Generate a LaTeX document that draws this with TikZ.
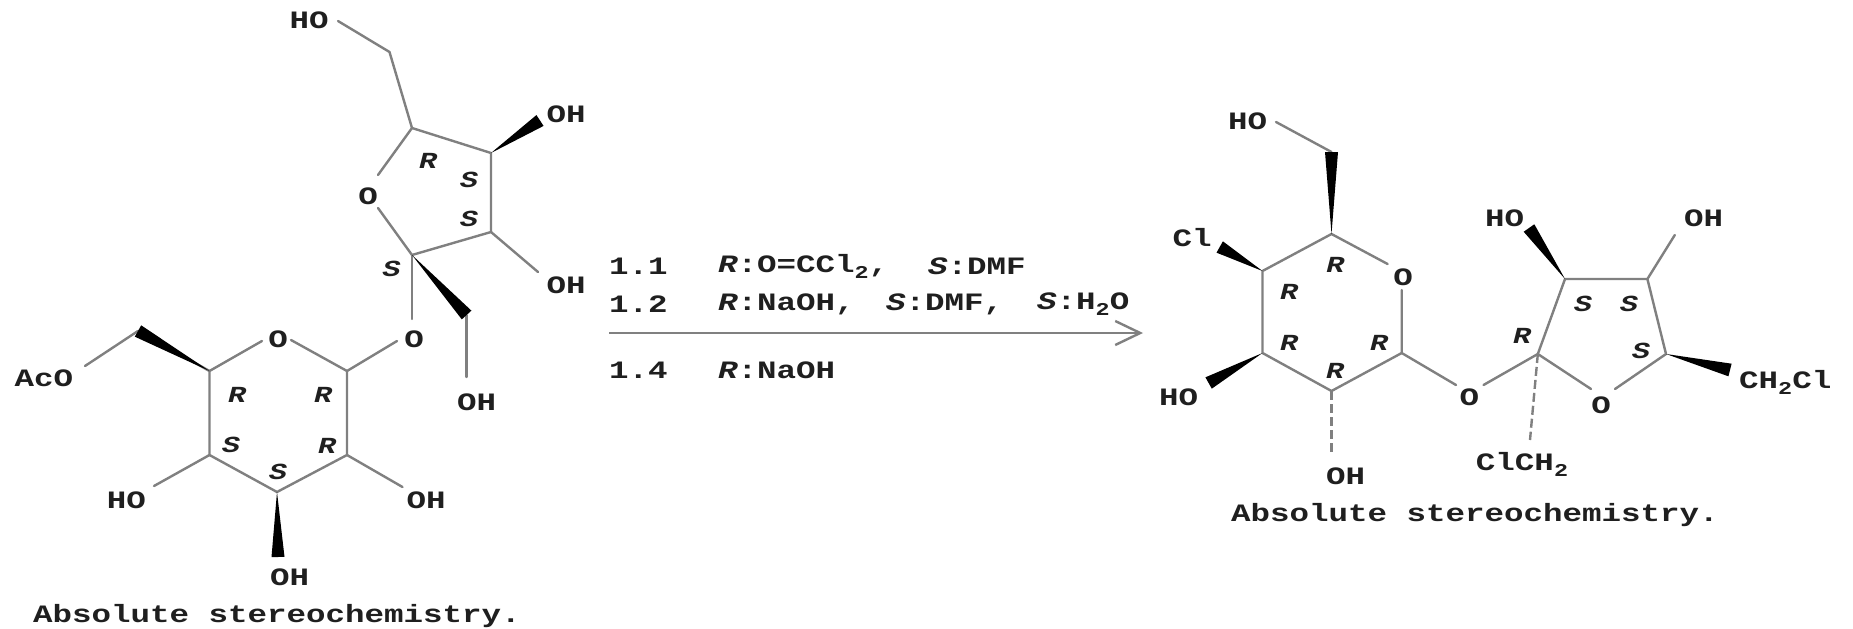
\documentclass[tikz,border=0pt]{standalone}
\usepackage{fontspec}
\usetikzlibrary{calc,arrows.meta}
\newfontfamily\labf{Liberation Mono}[FakeStretch=1.3]
\newcommand\subtwo{\raisebox{-6pt}{\fontsize{18}{18}\selectfont 2}}
\newcommand\wedgebond[3][6.5pt]{\fill[wedgecol] (#2) -- ($(#3)!#1!90:(#2)$) -- ($(#3)!#1!-90:(#2)$) -- cycle;}
\begin{document}
\begin{tikzpicture}[x=1pt,y=-1pt,
  lab/.style={inner sep=0pt,font=\fontsize{25}{25}\selectfont\labf\bfseries,text=black!88},
  stereo/.style={inner sep=0pt,font=\fontsize{23}{23}\selectfont\labf\bfseries\itshape,text=black!88},
  bond/.style={draw=black!50,line width=2.4pt,line cap=round,line join=round},
  hashbond/.style={bond,dash pattern=on 9pt off 4pt,line cap=butt},
  wedgecol/.style={fill=black},
  rxn/.style={draw=black!50,line width=2.8pt,-{Straight Barb[length=25pt,width=24pt,line width=2.4pt]}}]
\useasboundingbox[fill=white] (0,0) rectangle (1853,629);

% ---- left molecule: atoms
\foreach \n/\x/\y in {CH1/389.5/52,F5/412/128,F4/491/153,F3/491/232,F2/412/255,W2/466.6/315,
  G1/347/371,G5/209.5/371,G4/209.5/455,G3/277/492,G2/347/455,W6/138/331,
  e1/338/21,e2/540/120.5,e3/538/272,e4/378/175,e5/378/208,e6/466.6/377,e7/412/319,
  e8/397/341,e9/291/340,e10/262/341,e11/85/366,e12/154/486,e13/402.5/487,e14/278/557}
  {\coordinate (\n) at (\x,\y);}

\node[lab] (lHO1) at (309,20) {HO};
\node[lab] (lOH1) at (566,114) {OH};
\node[lab] (lOH2) at (566,285) {OH};
\node[lab] (lO1) at (368,196) {O};
\node[lab] (lOH3) at (476.5,402) {OH};
\node[lab] (lO2) at (414,339) {O};
\node[lab] (lO3) at (278,339) {O};
\node[lab] (lAcO) at (44,378) {AcO};
\node[lab] (lHO2) at (126.5,500) {HO};
\node[lab] (lOH4) at (426,500) {OH};
\node[lab] (lOH5) at (289.5,577.5) {OH};
\node[lab] (lcap) at (277,616) {Absolute stereochemistry.};

\node[stereo] (sa1) at (428,161) {R};
\node[stereo] (sa2) at (469,179.5) {S};
\node[stereo] (sa3) at (469,219) {S};
\node[stereo] (sa4) at (391.5,269) {S};
\node[stereo] (sa5) at (237,395) {R};
\node[stereo] (sa6) at (323,395) {R};
\node[stereo] (sa7) at (231,445) {S};
\node[stereo] (sa8) at (327,446) {R};
\node[stereo] (sa9) at (278,472) {S};

\draw[bond] (e1) -- (CH1) -- (F5) -- (F4) -- (F3) -- (F2) -- (e5);
\draw[bond] (F5) -- (e4);
\draw[bond] (F3) -- (e3);
\draw[bond] (F2) -- (e7);
\draw[bond] (W2) -- (e6);
\draw[bond] (e8) -- (G1) -- (e9);
\draw[bond] (G1) -- (G2) -- (G3) -- (G4) -- (G5) -- (e10);
\draw[bond] (G5) -- (W6);
\draw[bond] (W6) -- (e11);
\draw[bond] (G4) -- (e12);
\draw[bond] (G2) -- (e13);
\wedgebond{F4}{e2}
\wedgebond{F2}{W2}
\wedgebond{G5}{W6}
\wedgebond{G3}{e14}

% ---- reaction
\coordinate (astart) at (609,333);
\coordinate (aend) at (1143,333);
\draw[rxn] (astart) -- (aend);

\node[lab,anchor=west] (r1a) at (609,266) {1.1};
\node[lab,anchor=west] (r1b) at (718,266) {{\itshape R}:O=CCl\subtwo,};
\node[lab,anchor=west] (r1c) at (928,266) {{\itshape S}:DMF};
\node[lab,anchor=west] (r2a) at (609,304) {1.2};
\node[lab,anchor=west] (r2b) at (718,304) {{\itshape R}:NaOH,};
\node[lab,anchor=west] (r2c) at (886,304) {{\itshape S}:DMF,};
\node[lab,anchor=west] (r2d) at (1037,304) {{\itshape S}:H\subtwo O};
\node[lab,anchor=west] (r3a) at (609,370) {1.4};
\node[lab,anchor=west] (r3b) at (718,370) {{\itshape R}:NaOH};

% ---- right molecule: atoms
\foreach \n/\x/\y in {CHb/1331.5/152,P5/1331.5/234,P4/1262.5/271,P3/1262.5/353,P2/1331.5/391,P1/1401.7/353,
  Q2/1537.8/354,Q3/1565/279,Q4/1647.4/279,Q5/1666/354,
  f1/1276/122,f2/1219.7/247,f3/1208.6/383,f4/1331.5/455,f5/1401.7/290,f6/1387.6/264,
  f7/1456/385,f8/1483.5/385,f9/1591/389,f10/1615/389,f11/1529/228,f12/1674.8/235,f13/1730/370,f14/1530/440}
  {\coordinate (\n) at (\x,\y);}

\node[lab] (rHO1) at (1247.5,121) {HO};
\node[lab] (rCl) at (1192,238) {Cl};
\node[lab] (rHO2) at (1178.5,397) {HO};
\node[lab] (rOH1) at (1345.6,476) {OH};
\node[lab] (rO1) at (1403,277) {O};
\node[lab] (rO2) at (1469.3,397) {O};
\node[lab] (rO3) at (1601,405) {O};
\node[lab] (rHO3) at (1504.7,218) {HO};
\node[lab] (rOH2) at (1703.5,218) {OH};
\node[lab,anchor=west] (rCH) at (1739,382) {CH\subtwo Cl};
\node[lab] (rClC) at (1522,464) {ClCH\subtwo};
\node[lab] (rcap) at (1475,515) {Absolute stereochemistry.};

\node[stereo] (sb1) at (1335.4,265) {R};
\node[stereo] (sb2) at (1289,292) {R};
\node[stereo] (sb3) at (1289,343) {R};
\node[stereo] (sb4) at (1379,343) {R};
\node[stereo] (sb5) at (1335,371) {R};
\node[stereo] (sb6) at (1583,304) {S};
\node[stereo] (sb7) at (1629,304) {S};
\node[stereo] (sb8) at (1522,336) {R};
\node[stereo] (sb9) at (1641,351) {S};

\draw[bond] (f1) -- (CHb);
\draw[bond] (f6) -- (P5) -- (P4) -- (P3) -- (P2) -- (P1) -- (f5);
\draw[bond] (P1) -- (f7);
\draw[bond] (f8) -- (Q2) -- (Q3) -- (Q4) -- (Q5) -- (f10);
\draw[bond] (Q2) -- (f9);
\draw[bond] (Q4) -- (f12);
\draw[hashbond] (P2) -- (f4);
\draw[hashbond] (Q2) -- (f14);
\wedgebond{P5}{CHb}
\wedgebond{P4}{f2}
\wedgebond{P3}{f3}
\wedgebond{Q3}{f11}
\wedgebond{Q5}{f13}
\end{tikzpicture}
\end{document}
